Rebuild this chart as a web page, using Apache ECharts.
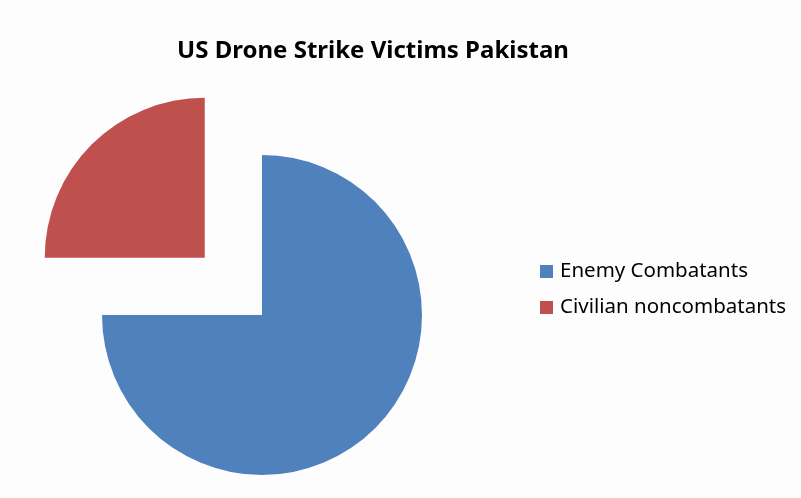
<!DOCTYPE html>
<html><head><meta charset="utf-8">
<script src="https://cdn.jsdelivr.net/npm/echarts@6/dist/echarts.min.js"></script>
<style>html,body{margin:0;padding:0;background:#fdfdfd}#c{width:801px;height:498px}</style>
</head><body><div id="c"></div>
<script>
const titleText = 'US Drone Strike Victims Pakistan';
const categories = ['Enemy Combatants', 'Civilian noncombatants'];
const values = [75, 25];
const colors = ['#4f81bd', '#c0504d'];
const exploded = [false, true];

const chart = echarts.init(document.getElementById('c'));
chart.setOption({
  backgroundColor: '#fdfdfd',
  animation: false,
  title: {
    text: titleText, left: 368, top: 34, textAlign: 'center',
    textStyle: {fontFamily: 'Noto Sans', fontWeight: 'bold', fontSize: 24, color: '#000'}
  },
  legend: {
    orient: 'vertical', left: 535, top: 256, itemWidth: 13, itemHeight: 13, itemGap: 15,
    selectedMode: false, icon: 'rect',
    textStyle: {fontFamily: 'Noto Sans', fontSize: 20.5, color: '#000', padding: [0,0,0,2]},
    data: categories
  },
  series: [{
    type: 'pie', center: [262, 315], radius: [0, 160], startAngle: 90, clockwise: true,
    selectedMode: 'multiple', selectedOffset: 81, silent: true,
    label: {show: false}, labelLine: {show: false},
    emphasis: {disabled: true},
    data: categories.map((n, i) => ({name: n, value: values[i], selected: exploded[i], itemStyle: {color: colors[i]}}))
  }]
});
</script></body></html>
